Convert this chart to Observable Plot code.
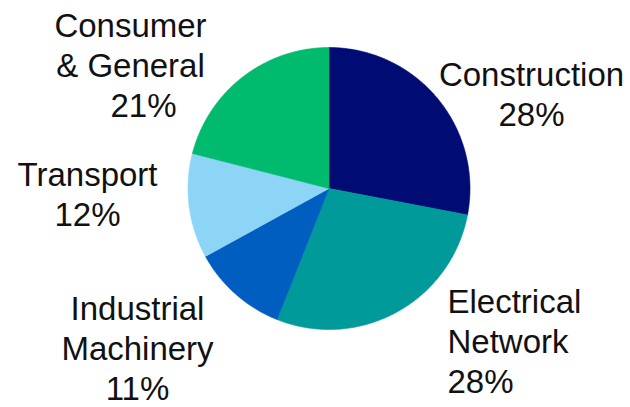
<!DOCTYPE html>
<html>
<head>
<meta charset="utf-8">
<script src="https://cdn.jsdelivr.net/npm/d3@7"></script>
<script src="https://cdn.jsdelivr.net/npm/@observablehq/plot@0.6"></script>
<style>
  html, body { margin: 0; padding: 0; background: #ffffff; }
  #chart svg { display: block; }
</style>
</head>
<body>
<div id="chart"></div>
<script>
// End-market split, clockwise from 12 o'clock
const categories = ["Construction", "Electrical Network", "Industrial Machinery", "Transport", "Consumer & General"];
const labelLines = [["Construction"], ["Electrical", "Network"], ["Industrial", "Machinery"], ["Transport"], ["Consumer", "& General"]];
const shares = [28, 28, 11, 12, 21];
const colors = ["#000c73", "#009a9a", "#005ec0", "#8dd5f6", "#00bb6e"];

// Layout (pixel units of the drawing frame)
const W = 630, H = 407;
const pie = {cx: 328.5, cy: 188, r: 141};
const fontSize = 33, lineGap = 40;
// label anchor: x, baseline of the last line, text anchor
const labelAnchor = {
  "Construction": {x: 531, y: 125, anchor: "middle"},
  "Electrical Network": {x: 447, y: 392, anchor: "start"},
  "Industrial Machinery": {x: 137, y: 399, anchor: "middle"},
  "Transport": {x: 87, y: 225, anchor: "middle"},
  "Consumer & General": {x: 130, y: 116, anchor: "middle", lastDx: 13}
};

const rows = categories.map((c, i) => ({category: c, share: shares[i]}));
const arcs = d3.pie().sort(null).value(d => d.share)(rows);

// Slice outlines: center, points along the arc, back to center
const outline = [];
for (const a of arcs) {
  const c = a.data.category;
  const steps = Math.max(2, Math.ceil((a.endAngle - a.startAngle) / 0.01));
  outline.push({category: c, x: pie.cx, y: pie.cy});
  for (let k = 0; k <= steps; k++) {
    const t = a.startAngle + (a.endAngle - a.startAngle) * k / steps;
    outline.push({category: c, x: pie.cx + pie.r * Math.sin(t), y: pie.cy - pie.r * Math.cos(t)});
  }
  outline.push({category: c, x: pie.cx, y: pie.cy});
}

// Label lines: name lines followed by the percentage
const labels = [];
categories.forEach((c, i) => {
  const lines = [...labelLines[i], `${shares[i]}%`];
  const a = labelAnchor[c];
  lines.forEach((text, j) => {
    const last = j === lines.length - 1;
    labels.push({
      text,
      x: a.x + (last && a.lastDx ? a.lastDx : 0),
      y: a.y - (lines.length - 1 - j) * lineGap,
      anchor: a.anchor
    });
  });
});

const chart = Plot.plot({
  width: W,
  height: H,
  margin: 0,
  x: {domain: [0, W], range: [0, W], axis: null},
  y: {domain: [0, H], range: [0, H], axis: null},
  color: {domain: categories, range: colors},
  style: {background: "#ffffff"},
  marks: [
    Plot.line(outline, {x: "x", y: "y", z: "category", fill: "category", stroke: "category", strokeWidth: 0.6, curve: "linear-closed"}),
    ...["start", "middle"].map(anchor =>
      Plot.text(labels.filter(d => d.anchor === anchor), {
        x: "x", y: "y", text: "text",
        textAnchor: anchor, lineAnchor: "bottom",
        fontSize, fontFamily: "Liberation Sans, Arial, sans-serif",
        fill: "#111111"
      })
    )
  ]
});

document.getElementById("chart").appendChild(chart);
</script>
</body>
</html>
